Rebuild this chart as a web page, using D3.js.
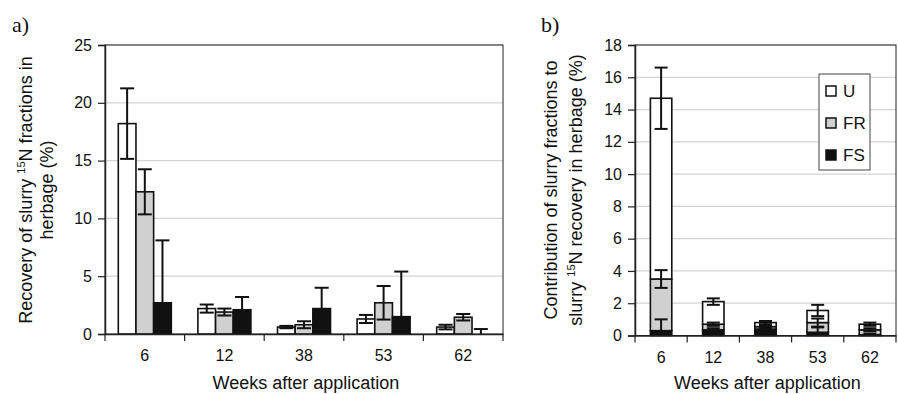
<!DOCTYPE html>
<html>
<head>
<meta charset="utf-8">
<script src="https://cdn.jsdelivr.net/npm/d3@7"></script>
<style>
  body { margin: 0; background: #fff; }
  svg text { font-family: "Liberation Sans", Arial, sans-serif; fill: #111; }
  svg text.panel { font-family: "Liberation Serif", "Times New Roman", serif; }
</style>
</head>
<body>
<div id="chart"></div>
<script>
// categories and series
const weeks = ['6', '12', '38', '53', '62']
const fractions = ['U', 'FR', 'FS']

// panel a: recovery of each fraction (%) and error
const recU = [18.2, 2.2, 0.6, 1.3, 0.6]
const recFR = [12.3, 1.9, 0.8, 2.7, 1.45]
const recFS = [2.7, 2.1, 2.2, 1.5, 0]
const errU = [3.05, 0.35, 0.1, 0.35, 0.2]
const errFR = [1.95, 0.3, 0.3, 1.45, 0.28]
const errFS = [5.4, 1.1, 1.8, 3.9, 0.43]

// panel b: contribution of fractions (stacked) and error
const contU = [11.2, 1.4, 0.25, 0.75, 0.35]
const contFR = [3.2, 0.35, 0.15, 0.6, 0.3]
const contFS = [0.3, 0.35, 0.4, 0.2, 0.05]
const cErrU = [1.9, 0.2, 0.1, 0.35, 0.1]
const cErrFR = [0.55, 0.1, 0.1, 0.25, 0.1]
const cErrFS = [0.7, 0.1, 0.1, 0.3, 0.05]

const ticksA = [0, 5, 10, 15, 20, 25]
const ticksB = [0, 2, 4, 6, 8, 10, 12, 14, 16, 18]

const fill = { U: '#ffffff', FR: '#d0d0d0', FS: '#111111' }

const svg = d3.select('#chart').append('svg')
  .attr('width', 898).attr('height', 394)

// shared helpers
function drawFrame(g, x, y, ticks, left, right, top, bottom) {
  g.selectAll('.grid').data(ticks.filter(t => t > 0)).enter().append('line')
    .attr('x1', left).attr('x2', right)
    .attr('y1', d => y(d)).attr('y2', d => y(d))
    .attr('stroke', '#d4d4d4').attr('stroke-width', 1.2)
  g.append('rect')
    .attr('x', left).attr('y', top).attr('width', right - left).attr('height', bottom - top)
    .attr('fill', 'none').attr('stroke', '#222').attr('stroke-width', 1)
}

function drawAxes(g, x, y, ticks, left, right, bottom) {
  const ya = g.append('g').attr('transform', `translate(${left},0)`)
    .call(d3.axisLeft(y).tickValues(ticks).tickSize(7).tickPadding(6))
  ya.select('.domain').attr('stroke', '#222').attr('stroke-width', 1.5)
  ya.selectAll('.tick line').attr('stroke', '#222').attr('stroke-width', 1.2)
  ya.selectAll('text').attr('font-size', 16)

  const xa = g.append('g').attr('transform', `translate(0,${bottom})`)
    .call(d3.axisBottom(x).tickSize(0).tickPadding(16).tickSizeOuter(0))
  xa.select('.domain').attr('stroke', '#222').attr('stroke-width', 1.5)
  xa.selectAll('text').attr('font-size', 16)

  const edges = x.domain().map(d => x(d)).concat([x(x.domain()[x.domain().length - 1]) + x.step()])
  g.selectAll('.xt').data(edges).enter().append('line')
    .attr('x1', d => d).attr('x2', d => d)
    .attr('y1', bottom).attr('y2', bottom + 7)
    .attr('stroke', '#222').attr('stroke-width', 1.2)
}

function errBar(g, cx, y, v, e, cap) {
  const lo = y(Math.max(0, v - e)), hi = y(v + e)
  const c = '#111'
  g.append('line').attr('x1', cx).attr('x2', cx).attr('y1', lo).attr('y2', hi)
    .attr('stroke', c).attr('stroke-width', 2)
  g.append('line').attr('x1', cx - cap / 2).attr('x2', cx + cap / 2).attr('y1', hi).attr('y2', hi)
    .attr('stroke', c).attr('stroke-width', 2)
  if (v - e > 0) {
    g.append('line').attr('x1', cx - cap / 2).attr('x2', cx + cap / 2).attr('y1', lo).attr('y2', lo)
      .attr('stroke', c).attr('stroke-width', 2)
  }
}

// ---------- panel a ----------
const aL = 105, aR = 503, aT = 45, aB = 334
const xA = d3.scaleBand().domain(weeks).range([aL, aR]).padding(0)
const x1A = d3.scaleBand().domain(fractions).range([xA.bandwidth() * 0.167, xA.bandwidth() * 0.833]).padding(0)
const yA = d3.scaleLinear().domain([0, 25]).range([aB, aT])
const gA = svg.append('g')

drawFrame(gA, xA, yA, ticksA, aL, aR, aT, aB)

const recA = { U: recU, FR: recFR, FS: recFS }
const errA = { U: errU, FR: errFR, FS: errFS }

fractions.forEach(f => {
  weeks.forEach((w, i) => {
    const bx = xA(w) + x1A(f)
    gA.append('rect')
      .attr('x', bx).attr('y', yA(recA[f][i]))
      .attr('width', x1A.bandwidth()).attr('height', aB - yA(recA[f][i]))
      .attr('fill', fill[f]).attr('stroke', '#111').attr('stroke-width', 1.6)
  })
})
fractions.forEach(f => {
  weeks.forEach((w, i) => {
    errBar(gA, xA(w) + x1A(f) + x1A.bandwidth() / 2, yA, recA[f][i], errA[f][i], 14)
  })
})

drawAxes(gA, xA, yA, ticksA, aL, aR, aB)

gA.append('text').attr('class', 'panel').attr('x', 12).attr('y', 32)
  .attr('font-size', 22)
  .text('a)')

const tA = gA.append('text')
  .attr('transform', 'translate(32,190) rotate(-90)')
  .attr('text-anchor', 'middle').attr('font-size', 18)
tA.append('tspan').attr('x', 0).attr('dy', 0).text('Recovery of slurry ')
tA.append('tspan').attr('font-size', 11).attr('dy', -7).text('15')
tA.append('tspan').attr('dy', 7).text('N fractions in')
gA.append('text')
  .attr('transform', 'translate(53,190) rotate(-90)')
  .attr('text-anchor', 'middle').attr('font-size', 18)
  .text('herbage (%)')

gA.append('text').attr('x', (aL + aR) / 2 + 2).attr('y', 389)
  .attr('text-anchor', 'middle').attr('font-size', 18)
  .text('Weeks after application')

// ---------- panel b ----------
const bL = 635, bR = 896, bT = 45, bB = 335.5
const xB = d3.scaleBand().domain(weeks).range([bL, bR]).padding(0)
const yB = d3.scaleLinear().domain([0, 18]).range([bB, bT])
const gB = svg.append('g')

drawFrame(gB, xB, yB, ticksB, bL, bR, bT, bB)

const stackData = weeks.map((w, i) => ({ week: w, FS: contFS[i], FR: contFR[i], U: contU[i] }))
const stack = d3.stack().keys(['FS', 'FR', 'U'])(stackData)
const errB = { U: cErrU, FR: cErrFR, FS: cErrFS }
const bw = xB.bandwidth() * 0.41

stack.forEach(layer => {
  gB.selectAll('.bar-' + layer.key).data(layer).enter().append('rect')
    .attr('x', d => xB(d.data.week) + (xB.bandwidth() - bw) / 2)
    .attr('y', d => yB(d[1]))
    .attr('width', bw)
    .attr('height', d => yB(d[0]) - yB(d[1]))
    .attr('fill', fill[layer.key]).attr('stroke', '#111').attr('stroke-width', 1.6)
})
stack.forEach(layer => {
  layer.forEach((d, i) => {
    errBar(gB, xB(d.data.week) + xB.bandwidth() / 2, yB, d[1], errB[layer.key][i], 13)
  })
})

drawAxes(gB, xB, yB, ticksB, bL, bR, bB)

gB.append('text').attr('class', 'panel').attr('x', 541).attr('y', 32)
  .attr('font-size', 22)
  .text('b)')

gB.append('text')
  .attr('transform', 'translate(557,190) rotate(-90)')
  .attr('text-anchor', 'middle').attr('font-size', 18)
  .text('Contribution of slurry fractions to')
const tB = gB.append('text')
  .attr('transform', 'translate(582,190) rotate(-90)')
  .attr('text-anchor', 'middle').attr('font-size', 18)
tB.append('tspan').text('slurry ')
tB.append('tspan').attr('font-size', 11).attr('dy', -7).text('15')
tB.append('tspan').attr('dy', 7).text('N recovery in herbage (%)')

gB.append('text').attr('x', (bL + bR) / 2 + 2).attr('y', 389)
  .attr('text-anchor', 'middle').attr('font-size', 18)
  .text('Weeks after application')

// legend
const leg = gB.append('g')
leg.append('rect').attr('x', 819).attr('y', 74).attr('width', 51).attr('height', 96)
  .attr('fill', '#fff').attr('stroke', '#444').attr('stroke-width', 1)
fractions.forEach((f, i) => {
  const cy = 91 + i * 32
  leg.append('rect').attr('x', 826).attr('y', cy - 5).attr('width', 10).attr('height', 10)
    .attr('fill', fill[f]).attr('stroke', '#111').attr('stroke-width', 1.5)
  leg.append('text').attr('x', 843).attr('y', cy + 6).attr('font-size', 17).text(f)
})
</script>
</body>
</html>
